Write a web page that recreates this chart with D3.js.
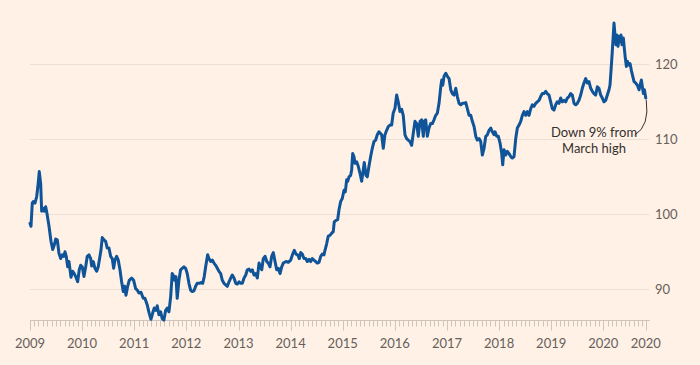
<!DOCTYPE html>
<html>
<head>
<meta charset="utf-8">
<script src="https://cdn.jsdelivr.net/npm/d3@7"></script>
<style>
    html, body { margin: 0; padding: 0; background: #fff1e5; }
    svg { display: block; }
    .tick-label { font-family: Lato, "Noto Sans", sans-serif; font-size: 13px; fill: #66605c; }
    .note { font-family: Lato, "Noto Sans", sans-serif; font-size: 13px; fill: #33302e; }
</style>
</head>
<body>
<svg id="chart" width="700" height="365"></svg>
<script>
//Dates as decimal years
const years = [
    2009.000,2009.019,2009.044,2009.063,2009.096,2009.129,2009.148,2009.178,2009.205,2009.224,
    2009.255,2009.274,2009.301,2009.326,2009.365,2009.403,2009.436,2009.466,2009.493,2009.524,
    2009.556,2009.589,2009.620,2009.647,2009.672,2009.696,2009.723,2009.748,2009.787,2009.819,
    2009.850,2009.877,2009.915,2009.946,2009.973,2010.003,2010.036,2010.069,2010.099,2010.132,
    2010.165,2010.184,2010.215,2010.247,2010.280,2010.310,2010.343,2010.362,2010.387,2010.420,
    2010.452,2010.483,2010.516,2010.548,2010.579,2010.606,2010.631,2010.663,2010.694,2010.727,
    2010.759,2010.790,2010.817,2010.842,2010.875,2010.905,2010.951,2010.990,2011.028,2011.059,
    2011.091,2011.130,2011.174,2011.206,2011.251,2011.289,2011.322,2011.354,2011.385,2011.418,
    2011.442,2011.475,2011.508,2011.538,2011.571,2011.604,2011.634,2011.667,2011.700,2011.730,
    2011.749,2011.776,2011.801,2011.826,2011.859,2011.891,2011.922,2011.955,2011.987,2012.018,
    2012.051,2012.083,2012.114,2012.147,2012.179,2012.210,2012.248,2012.281,2012.314,2012.344,
    2012.371,2012.409,2012.434,2012.467,2012.498,2012.530,2012.563,2012.594,2012.626,2012.659,
    2012.690,2012.722,2012.755,2012.786,2012.818,2012.851,2012.881,2012.914,2012.947,2012.977,
    2013.010,2013.043,2013.073,2013.106,2013.139,2013.169,2013.202,2013.235,2013.265,2013.298,
    2013.330,2013.361,2013.394,2013.446,2013.476,2013.509,2013.542,2013.572,2013.605,2013.637,
    2013.668,2013.701,2013.733,2013.764,2013.797,2013.829,2013.860,2013.912,2013.956,2014.002,
    2014.040,2014.071,2014.104,2014.136,2014.167,2014.194,2014.224,2014.257,2014.290,2014.320,
    2014.353,2014.386,2014.416,2014.449,2014.482,2014.512,2014.545,2014.578,2014.608,2014.641,
    2014.660,2014.693,2014.723,2014.756,2014.789,2014.819,2014.838,2014.871,2014.904,2014.929,
    2014.961,2014.992,2015.025,2015.050,2015.076,2015.096,2015.121,2015.153,2015.172,2015.192,
    2015.216,2015.236,2015.268,2015.299,2015.331,2015.364,2015.395,2015.414,2015.447,2015.472,
    2015.504,2015.537,2015.568,2015.600,2015.633,2015.664,2015.696,2015.748,2015.779,2015.811,
    2015.844,2015.875,2015.907,2015.940,2015.970,2016.003,2016.036,2016.066,2016.099,2016.132,
    2016.162,2016.195,2016.227,2016.258,2016.291,2016.323,2016.354,2016.387,2016.419,2016.450,
    2016.483,2016.515,2016.546,2016.565,2016.592,2016.623,2016.655,2016.688,2016.719,2016.751,
    2016.784,2016.815,2016.847,2016.880,2016.899,2016.918,2016.943,2016.976,2017.007,2017.039,
    2017.072,2017.103,2017.135,2017.168,2017.198,2017.231,2017.264,2017.294,2017.327,2017.360,
    2017.390,2017.423,2017.456,2017.486,2017.519,2017.552,2017.582,2017.615,2017.647,2017.678,
    2017.711,2017.743,2017.774,2017.807,2017.839,2017.870,2017.903,2017.922,2017.954,2017.985,
    2018.018,2018.050,2018.069,2018.094,2018.127,2018.158,2018.190,2018.223,2018.254,2018.286,
    2018.319,2018.350,2018.382,2018.415,2018.446,2018.478,2018.511,2018.542,2018.574,2018.607,
    2018.637,2018.670,2018.703,2018.733,2018.766,2018.798,2018.829,2018.862,2018.894,2018.925,
    2018.958,2018.990,2019.021,2019.054,2019.086,2019.117,2019.150,2019.182,2019.213,2019.246,
    2019.278,2019.309,2019.342,2019.374,2019.405,2019.438,2019.470,2019.501,2019.533,2019.566,
    2019.597,2019.629,2019.662,2019.693,2019.725,2019.758,2019.789,2019.821,2019.854,2019.885,
    2019.917,2019.950,2019.981,2020.013,2020.046,2020.077,2020.109,2020.128,2020.148,2020.172,
    2020.205,2020.224,2020.243,2020.263,2020.282,2020.301,2020.320,2020.339,2020.358,2020.384,
    2020.403,2020.422,2020.442,2020.461,2020.488,2020.512,2020.537,2020.564,2020.589,2020.622,
    2020.653,2020.684,2020.704,2020.729,2020.748,2020.767,2020.787,2020.813
];

//Index values
const values = [
    98.8,98.4,101.5,101.7,101.5,102.4,103.5,105.7,104.1,100.4,
    100.8,100.4,101.0,100.1,98.4,96.4,95.3,95.9,96.7,96.6,
    94.8,94.1,94.6,94.4,95.0,94.4,93.0,93.7,91.6,92.4,
    92.1,91.7,91.0,92.6,93.2,93.0,91.7,93.0,94.4,94.6,
    94.1,93.1,93.7,92.8,92.4,93.0,94.4,95.2,96.9,96.6,
    96.4,95.5,95.5,94.4,94.1,92.8,93.9,94.4,93.9,92.6,
    91.0,89.7,90.4,89.2,90.4,91.2,91.5,91.2,90.1,89.9,
    89.5,89.6,88.8,88.8,87.9,86.8,86.0,86.8,87.5,87.2,
    87.8,86.6,87.0,86.1,85.9,87.2,87.5,87.0,89.0,92.1,
    91.9,91.2,91.7,88.8,91.2,92.6,92.8,93.0,92.8,92.1,
    90.8,89.9,89.7,89.8,90.4,90.8,90.8,90.9,90.8,91.7,
    93.0,94.6,94.1,93.7,93.9,93.5,93.2,92.8,92.4,92.1,
    91.2,90.8,90.6,90.4,91.0,91.5,91.9,91.5,90.8,90.7,
    91.0,90.8,90.8,91.5,91.9,92.6,92.7,92.4,92.6,91.9,
    92.1,91.5,93.5,92.6,94.1,94.4,93.7,93.5,93.0,94.4,
    94.9,93.7,92.6,92.8,92.1,93.0,93.5,93.7,93.6,93.9,
    94.7,95.2,94.7,94.6,94.1,94.9,94.7,94.1,94.1,93.7,
    94.0,93.7,94.1,93.9,93.7,93.5,93.6,94.4,94.7,94.6,
    95.2,96.1,97.1,97.2,97.5,97.7,99.0,99.2,99.3,100.6,
    101.7,102.1,103.2,103.0,104.6,104.4,105.0,105.2,105.9,108.1,
    107.7,106.8,107.0,106.4,105.5,104.4,105.9,106.9,105.2,105.0,
    106.4,107.7,108.8,109.7,109.9,110.6,111.0,110.6,108.8,110.6,
    111.2,111.7,111.9,111.9,113.5,114.1,115.9,115.0,113.7,114.0,
    113.2,110.6,110.1,109.9,109.7,109.2,110.8,112.4,112.1,110.4,
    112.4,112.6,110.4,112.4,112.6,110.4,111.5,112.1,112.1,112.6,
    113.2,113.5,114.8,117.0,117.9,117.2,118.4,118.8,118.4,118.1,
    116.6,116.1,115.9,116.8,115.7,114.8,114.6,114.8,114.8,114.9,
    114.1,113.2,113.2,112.4,111.7,110.4,109.9,110.1,109.7,107.9,
    108.8,110.4,110.6,111.2,111.5,111.0,110.6,111.0,110.4,110.4,
    109.5,108.1,106.6,108.6,107.9,108.4,108.1,107.7,107.5,107.7,
    110.1,111.5,111.9,112.4,113.2,113.7,113.2,113.7,113.2,114.1,
    114.6,114.4,114.8,115.0,115.2,115.7,116.1,116.1,116.4,116.1,
    115.9,115.0,114.1,113.9,114.6,115.0,114.8,115.5,115.0,115.2,
    115.0,115.5,115.7,116.1,115.9,114.8,114.6,114.8,115.2,115.9,
    116.8,117.5,118.1,117.5,117.7,116.8,116.4,116.1,115.9,117.0,
    116.8,115.9,115.5,115.0,115.2,115.9,116.6,117.2,119.2,121.7,
    125.5,123.9,122.6,123.9,122.4,123.7,123.0,123.9,122.6,123.5,
    122.1,120.8,119.7,120.4,119.9,120.1,119.2,118.4,117.7,117.5,
    117.2,116.6,117.2,117.9,117.0,116.1,116.6,115.5
];

//Axis labels
const yTicks = [90, 100, 110, 120];
const yearLabels = d3.range(2009, 2021);
const noteLines = ["Down 9% from", "March high"];

//Convert decimal year to a Date
function toDate(y) {
    let yr = Math.floor(y);
    let start = new Date(yr, 0, 1), end = new Date(yr + 1, 0, 1);
    return new Date(+start + (y - yr) * (end - start));
}

const data = years.map((y, i) => ({ date: toDate(y), value: values[i] }));
const lastPoint = data[data.length - 1];

const svg = d3.select("#chart");

//Scales
const x = d3.scaleTime()
    .domain([new Date(2009, 0, 1), new Date(2020, 0, 1)])
    .range([30, 603.3]);

const y = d3.scaleLinear()
    .domain([90, 120])
    .range([289.3, 64.3]);

const axisY = 320.5;
const plotRight = 649;

//Horizontal gridlines
svg.append("g")
    .selectAll("line")
    .data(yTicks)
    .enter()
    .append("line")
    .attr("x1", 30)
    .attr("x2", plotRight)
    .attr("y1", d => Math.round(y(d)) + 0.5)
    .attr("y2", d => Math.round(y(d)) + 0.5)
    .attr("stroke", "#ebdfd4")
    .attr("stroke-width", 1);

//Right hand value labels
svg.append("g")
    .selectAll("text")
    .data(yTicks)
    .enter()
    .append("text")
    .attr("class", "tick-label")
    .attr("x", 655)
    .attr("y", d => y(d))
    .attr("dy", "0.36em")
    .text(d => d);

//Bottom axis line
svg.append("line")
    .attr("x1", 30)
    .attr("x2", plotRight + 1)
    .attr("y1", axisY)
    .attr("y2", axisY)
    .attr("stroke", "#cfc5bb");

//Monthly ticks, longer ones at the start of each year
const months = d3.timeMonth.range(new Date(2009, 0, 1), lastPoint.date);
svg.append("g")
    .selectAll("line")
    .data(months.concat([lastPoint.date]))
    .enter()
    .append("line")
    .attr("x1", d => Math.round(x(d)) + 0.5)
    .attr("x2", d => Math.round(x(d)) + 0.5)
    .attr("y1", axisY)
    .attr("y2", (d, i) => (d.getMonth() === 0 && d.getDate() === 1) || i === months.length ? axisY + 10 : axisY + 6)
    .attr("stroke", "#cfc5bb");

//Year labels, plus the latest date label
svg.append("g")
    .selectAll("text")
    .data(yearLabels.map(yr => ({ date: new Date(yr, 0, 1), label: yr }))
        .concat([{ date: lastPoint.date, label: lastPoint.date.getFullYear() }]))
    .enter()
    .append("text")
    .attr("class", "tick-label")
    .attr("x", d => x(d.date))
    .attr("y", 348)
    .attr("text-anchor", "middle")
    .text(d => d.label);

//The index line
const line = d3.line()
    .x(d => x(d.date))
    .y(d => y(d.value));

svg.append("path")
    .datum(data)
    .attr("d", line)
    .attr("fill", "none")
    .attr("stroke", "#0f5499")
    .attr("stroke-width", 3)
    .attr("stroke-linejoin", "round")
    .attr("stroke-linecap", "round");

//Annotation connector curving from the last point to the note
const lx = x(lastPoint.date), ly = y(lastPoint.value);
const p = d3.path();
p.moveTo(lx + 0.5, ly + 2);
p.quadraticCurveTo(lx + 4, ly + 28, lx - 11, ly + 37);
svg.append("path")
    .attr("d", p.toString())
    .attr("fill", "none")
    .attr("stroke", "#33302e")
    .attr("stroke-width", 1);

//Annotation text, one text element per line
svg.append("g")
    .selectAll("text")
    .data(noteLines)
    .enter()
    .append("text")
    .attr("class", "note")
    .attr("x", 594)
    .attr("y", (d, i) => 137 + i * 15.5)
    .attr("text-anchor", "middle")
    .text(d => d);
</script>
</body>
</html>
